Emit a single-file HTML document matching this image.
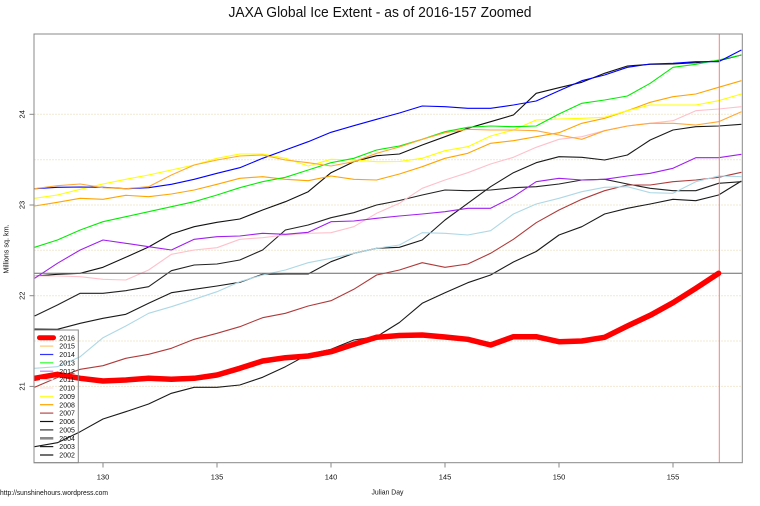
<!DOCTYPE html>
<html><head><meta charset="utf-8"><style>
html,body{margin:0;padding:0;background:#fff;}
svg{display:block;}
text{font-family:"Liberation Sans",Arial,sans-serif;fill:#111;}
</style></head><body>
<svg width="760" height="506" viewBox="0 0 760 506" xmlns="http://www.w3.org/2000/svg">
<rect x="0" y="0" width="760" height="506" fill="#fff"/>
<text x="380" y="16.8" font-size="14.5" text-anchor="middle" textLength="303" lengthAdjust="spacingAndGlyphs">JAXA Global Ice Extent - as of 2016-157 Zoomed</text>
<defs><clipPath id="pc"><rect x="34" y="34" width="708.3" height="428.7"/></clipPath></defs>
<g stroke="#f3e9d2" stroke-width="1" stroke-dasharray="2,1">
<line x1="34" x2="742" y1="114.3" y2="114.3"/>
<line x1="34" x2="742" y1="159.7" y2="159.7"/>
<line x1="34" x2="742" y1="205" y2="205"/>
<line x1="34" x2="742" y1="250.3" y2="250.3"/>
<line x1="34" x2="742" y1="295.7" y2="295.7"/>
<line x1="34" x2="742" y1="341" y2="341"/>
<line x1="34" x2="742" y1="386.4" y2="386.4"/>
</g>
<g clip-path="url(#pc)" fill="none" stroke-width="1.1" stroke-linejoin="round">
<polyline stroke="#1a1a1a" points="34.6,446.7 57.4,442.7 80.2,431.7 103,419 125.8,411.7 148.6,404 171.4,393.3 194.2,387.3 217,387.3 239.8,385 262.6,377.3 285.4,366.7 308.2,354.3 331,349.3 353.8,340 376.6,336.7 399.4,322.5 422.2,303.3 445,292.7 467.8,282.7 490.6,275 513.4,262 536.2,251.5 559,235 581.8,226.7 604.6,214 627.4,208.3 650.2,204 673,199.3 695.8,200.7 718.6,195 741.4,181"/>
<polyline stroke="#1a1a1a" points="34.6,329 57.4,329.3 80.2,323.3 103,318.3 125.8,314.3 148.6,303.3 171.4,292.7 194.2,289.3 217,286 239.8,282.3 262.6,274.3 285.4,274 308.2,274 331,261.7 353.8,253.3 376.6,248.3 399.4,247.3 422.2,240 445,220 467.8,203.3 490.6,186.7 513.4,172.7 536.2,162.7 559,156.7 581.8,157.3 604.6,160 627.4,155 650.2,140 673,130 695.8,126.7 718.6,126 741.4,124.3"/>
<polyline stroke="#222" points="34.6,316 57.4,305 80.2,293.3 103,293.3 125.8,290.7 148.6,286.7 171.4,270.7 194.2,265 217,264 239.8,260 262.6,250 285.4,230 308.2,225 331,217.7 353.8,212.7 376.6,205 399.4,200.5 422.2,195 445,190 467.8,190.7 490.6,190 513.4,187.7 536.2,186.7 559,184 581.8,180 604.6,179.3 627.4,184 650.2,188.3 673,190.7 695.8,190.7 718.6,183.3 741.4,181.7"/>
<polyline stroke="#111" points="34.6,276 57.4,274.3 80.2,273.3 103,267.3 125.8,257.3 148.6,247 171.4,234 194.2,226.7 217,222.3 239.8,219 262.6,210 285.4,201.7 308.2,191.7 331,172.7 353.8,161.7 376.6,155.7 399.4,154 422.2,145 445,136.7 467.8,128.3 490.6,121.7 513.4,115 536.2,93.3 559,87.7 581.8,82.3 604.6,73.3 627.4,66 650.2,64.3 673,64 695.8,62.7 718.6,60.7 741.4,55"/>
<polyline stroke="#b03a3a" points="34.6,387.3 57.4,377.5 80.2,369.3 103,365.7 125.8,358.3 148.6,354.3 171.4,348.3 194.2,339.3 217,333.3 239.8,326.7 262.6,317.7 285.4,313.3 308.2,306 331,300.7 353.8,289.3 376.6,275 399.4,270 422.2,262.7 445,267.3 467.8,264 490.6,253.3 513.4,239.3 536.2,222.7 559,210 581.8,199.3 604.6,190.7 627.4,185 650.2,185 673,181.7 695.8,180 718.6,177.3 741.4,172.3"/>
<polyline stroke="#ffa500" points="34.6,206 57.4,202.3 80.2,198.3 103,199.3 125.8,195.3 148.6,196.7 171.4,194 194.2,190 217,184.3 239.8,178.3 262.6,176.7 285.4,179.3 308.2,180.7 331,176 353.8,179.3 376.6,180 399.4,174 422.2,166.7 445,158.3 467.8,153.3 490.6,143.3 513.4,140.7 536.2,136.7 559,132.7 581.8,123.3 604.6,118.3 627.4,110.7 650.2,102.3 673,96.7 695.8,94 718.6,87.3 741.4,80.7"/>
<polyline stroke="#ffff00" points="34.6,198.3 57.4,195 80.2,189.3 103,184 125.8,179.3 148.6,175 171.4,170 194.2,165 217,158.3 239.8,154 262.6,154 285.4,158.3 308.2,166 331,159.3 353.8,160 376.6,161.7 399.4,161.5 422.2,158.3 445,150.7 467.8,146.7 490.6,136 513.4,130 536.2,120 559,119 581.8,118.3 604.6,117.3 627.4,110.7 650.2,105 673,105 695.8,105 718.6,100.7 741.4,94"/>
<polyline stroke="#ffc0cb" points="34.6,276 57.4,276 80.2,276.7 103,279.3 125.8,280 148.6,270 171.4,254.3 194.2,250 217,247.7 239.8,239.3 262.6,237.7 285.4,235 308.2,233.3 331,232.7 353.8,226.7 376.6,213.3 399.4,203.3 422.2,188.3 445,180 467.8,172.7 490.6,164 513.4,157.3 536.2,147.3 559,139.3 581.8,136.7 604.6,130.7 627.4,126 650.2,123.3 673,120.7 695.8,110.7 718.6,109 741.4,106.7"/>
<polyline stroke="#add8e6" points="34.6,368.3 57.4,366.7 80.2,356.7 103,337.7 125.8,326 148.6,313.3 171.4,306.7 194.2,299.3 217,291.7 239.8,281.7 262.6,275 285.4,270 308.2,262.7 331,258.3 353.8,253.3 376.6,248.3 399.4,245 422.2,232.7 445,233.3 467.8,235 490.6,230.7 513.4,214 536.2,204 559,198.3 581.8,191.7 604.6,187.3 627.4,186.7 650.2,192.7 673,193.3 695.8,181.7 718.6,176 741.4,176.7"/>
<polyline stroke="#a020f0" points="34.6,278.3 57.4,263.3 80.2,250 103,240 125.8,243.3 148.6,246.7 171.4,250 194.2,239.3 217,236.7 239.8,236 262.6,233.3 285.4,234.3 308.2,232.3 331,221.7 353.8,221 376.6,218.3 399.4,216 422.2,214 445,211.7 467.8,208.3 490.6,208.3 513.4,196.7 536.2,181.7 559,178.3 581.8,180 604.6,179.3 627.4,176 650.2,173.3 673,168.3 695.8,157.7 718.6,157.7 741.4,154.3"/>
<polyline stroke="#00ee00" points="34.6,247.3 57.4,240 80.2,230 103,221.7 125.8,216.7 148.6,211.7 171.4,206.7 194.2,201.7 217,195 239.8,187.7 262.6,181.7 285.4,177.3 308.2,170 331,162.7 353.8,158.3 376.6,150 399.4,146 422.2,139.3 445,131.7 467.8,127.3 490.6,126 513.4,126.7 536.2,126 559,114 581.8,103.3 604.6,100 627.4,96 650.2,83.3 673,67.3 695.8,64.3 718.6,60 741.4,55"/>
<polyline stroke="#0000ff" points="34.6,188.7 57.4,187.3 80.2,187 103,187.3 125.8,188.7 148.6,187.7 171.4,184.3 194.2,179.3 217,173.3 239.8,167.7 262.6,158.3 285.4,150 308.2,141.7 331,132.3 353.8,125.7 376.6,119.3 399.4,113 422.2,106 445,106.7 467.8,108.3 490.6,108.3 513.4,105 536.2,101 559,90.7 581.8,80.7 604.6,75 627.4,67.3 650.2,64 673,63.3 695.8,61.7 718.6,61.7 741.4,50"/>
<polyline stroke="#ffa833" points="34.6,188.7 57.4,185.7 80.2,184 103,187.7 125.8,188.7 148.6,186.7 171.4,175 194.2,165 217,160 239.8,156 262.6,155 285.4,160 308.2,162.7 331,166 353.8,161.7 376.6,153.3 399.4,147 422.2,139.3 445,132.7 467.8,129.3 490.6,130 513.4,130 536.2,130.7 559,135 581.8,139.3 604.6,130.7 627.4,126 650.2,123.3 673,123.3 695.8,125 718.6,121.7 741.4,111.7"/>
<line x1="34" x2="742.3" y1="273.3" y2="273.3" stroke="#6a6a6a" stroke-width="1"/>
<line x1="719.3" x2="719.3" y1="34" y2="462.7" stroke="#f08080" stroke-width="1"/>
<polyline stroke="#ff0000" stroke-width="5.5" stroke-linecap="round" points="34.6,378.3 57.4,374.3 80.2,378.3 103,381 125.8,380 148.6,378.3 171.4,379.3 194.2,378.3 217,375 239.8,368.3 262.6,361 285.4,357.7 308.2,356 331,351.7 353.8,344.3 376.6,337.3 399.4,335.5 422.2,335 445,337 467.8,339.3 490.6,345 513.4,336.7 536.2,336.7 559,341.7 581.8,341 604.6,337.3 627.4,326 650.2,315.3 673,302.7 695.8,288.3 718.6,273.3"/>
</g>
<rect x="34" y="34" width="708.3" height="428.7" fill="none" stroke="#888" stroke-width="1"/>
<g stroke="#888" stroke-width="1">
<line x1="103" x2="103" y1="462.7" y2="467.5"/>
<line x1="217" x2="217" y1="462.7" y2="467.5"/>
<line x1="331" x2="331" y1="462.7" y2="467.5"/>
<line x1="445" x2="445" y1="462.7" y2="467.5"/>
<line x1="559" x2="559" y1="462.7" y2="467.5"/>
<line x1="673" x2="673" y1="462.7" y2="467.5"/>
<line x1="29.5" x2="34" y1="114.3" y2="114.3"/>
<line x1="29.5" x2="34" y1="205" y2="205"/>
<line x1="29.5" x2="34" y1="295.7" y2="295.7"/>
<line x1="29.5" x2="34" y1="386.4" y2="386.4"/>
</g>
<g font-size="7.5" text-anchor="middle">
<text x="103" y="479.5">130</text>
<text x="217" y="479.5">135</text>
<text x="331" y="479.5">140</text>
<text x="445" y="479.5">145</text>
<text x="559" y="479.5">150</text>
<text x="673" y="479.5">155</text>
<text x="387.5" y="494.5" textLength="32" lengthAdjust="spacingAndGlyphs">Julian Day</text>
<text transform="translate(24.3,114.3) rotate(-90)">24</text>
<text transform="translate(24.3,205) rotate(-90)">23</text>
<text transform="translate(24.3,295.7) rotate(-90)">22</text>
<text transform="translate(24.3,386.4) rotate(-90)">21</text>
<text transform="translate(8.3,249) rotate(-90)" font-size="7.2">Millions sq. km.</text>
</g>
<text x="0" y="495" font-size="7.5" textLength="108" lengthAdjust="spacingAndGlyphs">http://sunshinehours.wordpress.com</text>
<rect x="34" y="330" width="44.3" height="132.7" fill="none" stroke="#888" stroke-width="1"/>
<g stroke-linecap="butt">
<line x1="39.5" x2="53.5" y1="337.7" y2="337.7" stroke="#ff0000" stroke-width="5" stroke-linecap="round"/>
<line x1="40" x2="53.3" y1="346.1" y2="346.1" stroke="#ffc878" stroke-width="1.2"/>
<line x1="40" x2="53.3" y1="354.5" y2="354.5" stroke="#3333ff" stroke-width="1.2"/>
<line x1="40" x2="53.3" y1="362.8" y2="362.8" stroke="#33ff33" stroke-width="1.2"/>
<line x1="40" x2="53.3" y1="371.2" y2="371.2" stroke="#c080ff" stroke-width="1.2"/>
<line x1="40" x2="53.3" y1="379.6" y2="379.6" stroke="#c8e6f0" stroke-width="1.2"/>
<line x1="40" x2="53.3" y1="388" y2="388" stroke="#ffe0e4" stroke-width="1.2"/>
<line x1="40" x2="53.3" y1="396.4" y2="396.4" stroke="#ffff33" stroke-width="1.2"/>
<line x1="40" x2="53.3" y1="404.7" y2="404.7" stroke="#ffa500" stroke-width="1.2"/>
<line x1="40" x2="53.3" y1="413.1" y2="413.1" stroke="#b84a4a" stroke-width="1.2"/>
<line x1="40" x2="53.3" y1="421.5" y2="421.5" stroke="#111" stroke-width="1.2"/>
<line x1="40" x2="53.3" y1="429.9" y2="429.9" stroke="#333" stroke-width="1.2"/>
<line x1="40" x2="53.3" y1="438.3" y2="438.3" stroke="#888" stroke-width="2.6"/>
<line x1="40" x2="53.3" y1="446.6" y2="446.6" stroke="#222" stroke-width="1.2"/>
<line x1="40" x2="53.3" y1="455" y2="455" stroke="#111" stroke-width="1.2"/>
</g>
<g font-size="7" fill="#222">
<text x="59.3" y="340.3">2016</text>
<text x="59.3" y="348.7">2015</text>
<text x="59.3" y="357.1">2014</text>
<text x="59.3" y="365.4">2013</text>
<text x="59.3" y="373.8">2012</text>
<text x="59.3" y="382.2">2011</text>
<text x="59.3" y="390.6">2010</text>
<text x="59.3" y="399">2009</text>
<text x="59.3" y="407.3">2008</text>
<text x="59.3" y="415.7">2007</text>
<text x="59.3" y="424.1">2006</text>
<text x="59.3" y="432.5">2005</text>
<text x="59.3" y="440.9">2004</text>
<text x="59.3" y="449.2">2003</text>
<text x="59.3" y="457.6">2002</text>
</g>
</svg>
</body></html>
